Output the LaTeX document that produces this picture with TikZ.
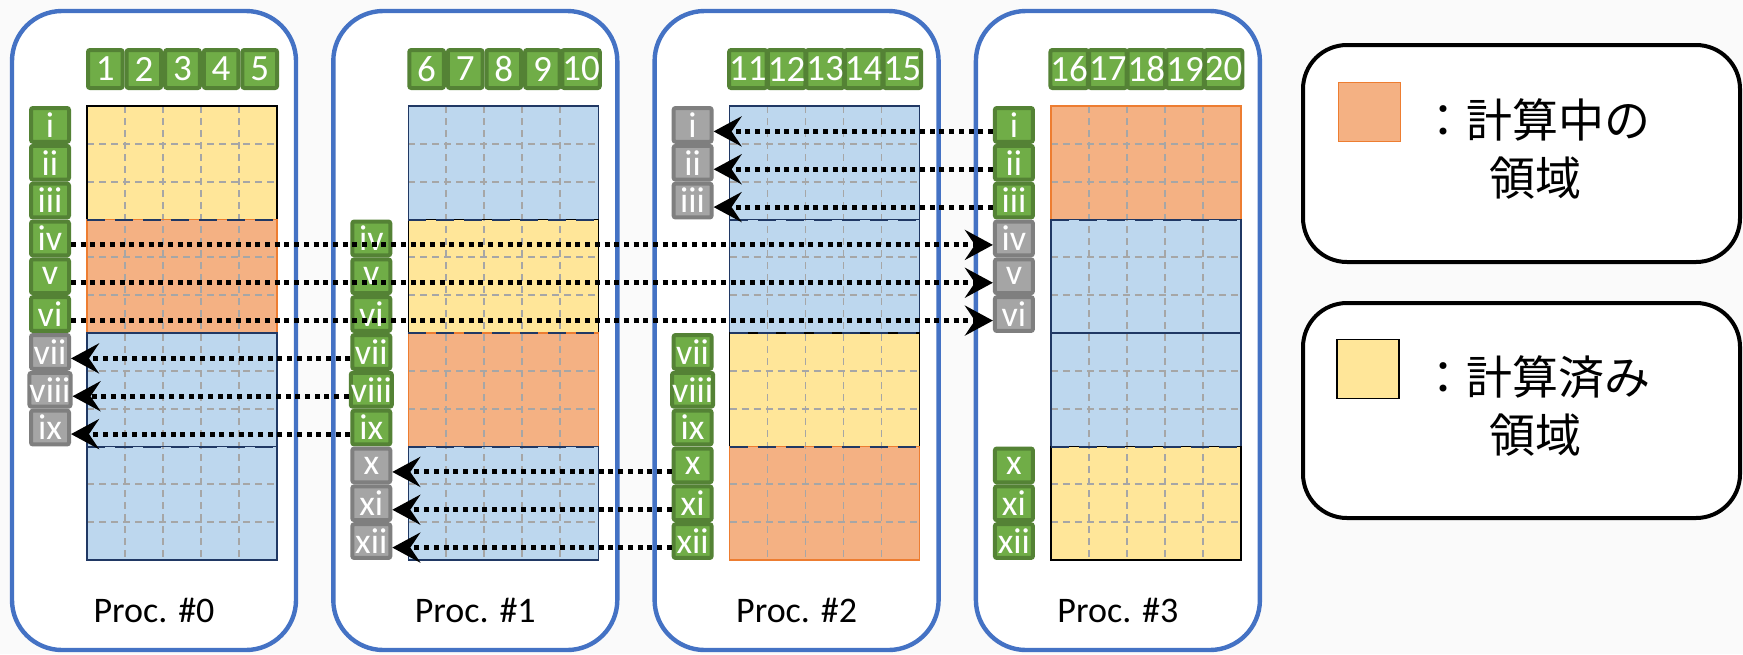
\documentclass[tikz,border=0pt]{standalone}
\usepackage{fontspec}
\setmainfont{Carlito}
\newfontfamily\jp{Noto Sans CJK JP}
\usetikzlibrary{arrows.meta}
\definecolor{procblue}{HTML}{4472C4}
\definecolor{gIn}{HTML}{70AD47}
\definecolor{gOut}{HTML}{548235}
\definecolor{kIn}{HTML}{A5A5A5}
\definecolor{kOut}{HTML}{7F7F7F}
\definecolor{cY}{HTML}{FFE699}
\definecolor{cO}{HTML}{F4B183}
\definecolor{cOb}{HTML}{ED7D31}
\definecolor{cB}{HTML}{BDD7EE}
\definecolor{cBb}{HTML}{203864}
\definecolor{gridc}{HTML}{A6A6A6}
\definecolor{bgc}{HTML}{FAFAFA}
\tikzset{
  procbox/.style={draw=procblue, fill=white, line width=2.2pt, rounded corners=25pt},
  proclbl/.style={inner sep=0pt, font=\fontsize{18pt}{18pt}\selectfont},
  cellbase/.style={line width=2pt, inner sep=0pt, rounded corners=1pt, text=white},
  numcell/.style={cellbase, fill=gIn, draw=gOut, minimum width=17.3pt, minimum height=19pt,
    font=\fontsize{18.5pt}{18.5pt}\selectfont},
  labg/.style={cellbase, fill=gIn, draw=gOut, minimum width=19pt, minimum height=16.9pt,
    font=\fontsize{18pt}{18pt}\selectfont},
  labk/.style={cellbase, fill=kIn, draw=kOut, minimum width=19pt, minimum height=16.9pt,
    font=\fontsize{18pt}{18pt}\selectfont},
  fillY/.style={fill=cY}, fillO/.style={fill=cO}, fillB/.style={fill=cB},
  edgeY/.style={draw=black, line width=0.8pt},
  edgeO/.style={draw=cOb, line width=0.8pt},
  edgeB/.style={draw=cBb, line width=0.8pt},
  gridline/.style={draw=gridc, line width=0.85pt, dash pattern=on 3.5pt off 2.5pt},
  blkline/.style={draw=cBb, line width=1pt, dash pattern=on 9pt off 5pt},
  dotarrow/.style={line width=2.5pt, dash pattern=on 2.5pt off 2.35pt,
    -{Stealth[length=14pt,width=15pt,inset=5pt]}},
  legbox/.style={draw=black, fill=white, line width=2pt, rounded corners=22pt},
  legsq/.style={line width=0.75pt, minimum width=31pt, minimum height=29.5pt, inner sep=0pt},
  legtext/.style={align=center, inner sep=0pt, font=\jp\fontsize{23pt}{29pt}\selectfont}
}
\begin{document}
\begin{tikzpicture}[x=0.5pt,y=-0.5pt]
\fill[bgc] (0,0) rectangle (1743,654);
\useasboundingbox (0,0) rectangle (1743,654);

% process boxes, titles, column numbers
\foreach \pp in {0,1,2,3} {
  \pgfmathsetmacro\off{321.3*\pp}
  \draw[procbox] (12+\off,11) rectangle (296+\off,650);
  \node[proclbl] (proc\pp) at (154+\off,610) {Proc. \#\pp};
  \foreach \k in {1,...,5} {
    \pgfmathtruncatemacro\nn{5*\pp+\k}
    \node[numcell] (n\nn) at (66.7+38.6*\k+\off,69) {\nn};
  }
}

% blocks
\foreach \pp/\cols in {0/{Y,O,B,B},1/{B,Y,O,B},2/{B,B,Y,O},3/{O,B,B,Y}} {
  \pgfmathsetmacro\off{321.3*\pp}
  \foreach \c [count=\bb from 0] in \cols {
    \fill[fill\c] (87+\off,106+113.5*\bb) rectangle (277+\off,219.5+113.5*\bb);
  }
  \foreach \k in {1,...,4} {
    \draw[gridline] (87+38*\k+\off,106) -- (87+38*\k+\off,560);
  }
  \foreach \rr in {1,2,4,5,7,8,10,11} {
    \draw[gridline] (87+\off,106+37.833*\rr) -- (277+\off,106+37.833*\rr);
  }
  \foreach \c [count=\bb from 0] in \cols {
    \draw[edge\c] (87+\off,106+113.5*\bb) rectangle (277+\off,219.5+113.5*\bb);
  }
  \foreach \bb in {1,2,3} {
    \draw[blkline] (87+\off,106+113.5*\bb) -- (277+\off,106+113.5*\bb);
  }
}

% row labels
\foreach \pp/\aa/\zz/\tp in {0/1/6/g, 0/7/9/k, 1/4/9/g, 1/10/12/k,
                            2/1/3/k, 2/7/12/g, 3/1/3/g, 3/4/6/k, 3/10/12/g} {
  \foreach \rr in {\aa,...,\zz} {
    \node[lab\tp] (p\pp r\rr) at (50+321.3*\pp,87.08+37.833*\rr) {\romannumeral\rr};
  }
}

% transfers
\foreach \rr in {4,5,6} {
  \draw[dotarrow] ([yshift=-3.25pt]p0r\rr.east) -- ([yshift=-3.25pt]p3r\rr.west);
}
\foreach \rr in {7,8,9} {
  \draw[dotarrow] ([yshift=-3.25pt]p1r\rr.west) -- ([yshift=-3.25pt]p0r\rr.east);
}
\foreach \rr in {10,11,12} {
  \draw[dotarrow] ([yshift=-3.25pt]p2r\rr.west) -- ([yshift=-3.25pt]p1r\rr.east);
}
\foreach \rr in {1,2,3} {
  \draw[dotarrow] ([yshift=-3.25pt]p3r\rr.west) -- ([yshift=-3.25pt]p2r\rr.east);
}

% legend
\draw[legbox] (1303,45) rectangle (1740,262);
\draw[legbox] (1303,303) rectangle (1740,518);
\node[legsq, fill=cO, draw=cOb] (legO) at (1369.5,112) {};
\node[legsq, fill=cY, draw=black] (legY) at (1368,369) {};
\node[legtext] (legOt) at (1535,149) {：計算中の\\領域};
\node[legtext] (legYt) at (1535,406) {：計算済み\\領域};
\end{tikzpicture}
\end{document}
